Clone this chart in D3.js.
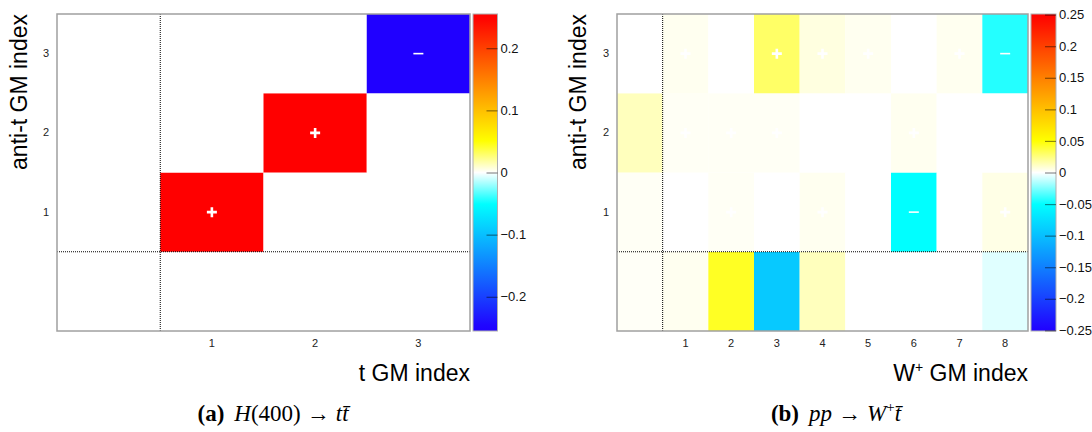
<!DOCTYPE html>
<html>
<head>
<meta charset="utf-8">
<script src="https://cdn.jsdelivr.net/npm/d3@7"></script>
<style>
  body { margin: 0; background: #fff; }
  svg { display: block; font-family: "Liberation Sans", Arial, sans-serif; }
</style>
</head>
<body>
<svg id="chart"></svg>
<script>
// panel (a): H(400) -> t tbar, rows = anti-t GM index (bottom to top), cols = t GM index
const aCols = [0, 1, 2, 3];
const aRows = [0, 1, 2, 3];
const aValues = [
  [0, 0, 0, 0],
  [0, 0.25, 0, 0],
  [0, 0, 0.25, 0],
  [0, 0, 0, -0.25]
];
const aTickLabels = [1, 2, 3];
const aBarTicks = [-0.2, -0.1, 0, 0.1, 0.2];
const aBarLimit = 0.255;

// panel (b): pp -> W+ tbar, cols = W+ GM index
const bCols = [0, 1, 2, 3, 4, 5, 6, 7, 8];
const bRows = [0, 1, 2, 3];
const bValues = [
  [0.0015, 0.003, 0.043, -0.092, 0.013, 0, 0, 0, -0.006],
  [0.002, 0, 0.002, 0, 0.003, 0, -0.05, 0, 0.005],
  [0.013, 0.002, 0.002, 0.002, 0, 0, 0.003, 0, 0],
  [0, 0.003, 0, 0.03, 0.006, 0.003, 0, 0.003, -0.043]
];
const bXTickLabels = [1, 2, 3, 4, 5, 6, 7, 8];
const bYTickLabels = [1, 2, 3];
const bBarTicks = [-0.25, -0.2, -0.15, -0.1, -0.05, 0, 0.05, 0.1, 0.15, 0.2, 0.25];
const bBarLimit = 0.251;

// palette
const colorStops = [-0.25, -0.05, 0, 0.05, 0.25];
const colorRange = ["#2000ff", "#00ffff", "#ffffff", "#ffff00", "#ff0000"];
const color = d3.scaleLinear().domain(colorStops).range(colorRange).clamp(true);

const width = 1092, height = 432;
const svg = d3.select("#chart").attr("width", width).attr("height", height);

function drawPanel(p) {
  const g = svg.append("g");

  const x = d3.scaleBand().domain(p.cols).range([p.x0, p.x1]);
  const y = d3.scaleBand().domain(p.rows).range([p.y1, p.y0]);

  // cells
  const cells = [];
  p.values.forEach((row, r) => row.forEach((v, c) => cells.push({ r: p.rows[r], c: p.cols[c], v: v })));

  g.selectAll(".cell")
    .data(cells)
    .enter()
    .append("rect")
      .attr("x", d => x(d.c))
      .attr("y", d => y(d.r))
      .attr("width", x.bandwidth())
      .attr("height", y.bandwidth())
      .attr("fill", d => color(d.v));

  // sign markers (skip index 0 row / column)
  const marked = cells.filter(d => d.v !== 0 && d.r > 0 && d.c > 0);
  g.selectAll(".mark")
    .data(marked)
    .enter()
    .append("path")
      .attr("d", d => {
        const cx = x(d.c) + x.bandwidth() / 2, cy = y(d.r) + y.bandwidth() / 2;
        return d.v > 0
          ? `M${cx - 5},${cy}H${cx + 5}M${cx},${cy - 5}V${cy + 5}`
          : `M${cx - 5},${cy}H${cx + 5}`;
      })
      .attr("stroke", "#fff")
      .attr("stroke-width", d => d.v > 0 ? 2.6 : 1.6)
      .attr("fill", "none");

  // dotted separators after index 0
  g.append("line")
    .attr("x1", x(1)).attr("x2", x(1))
    .attr("y1", p.y0).attr("y2", p.y1)
    .attr("stroke", "#000").attr("stroke-width", 1).attr("stroke-dasharray", "1,1");
  g.append("line")
    .attr("x1", p.x0).attr("x2", p.x1)
    .attr("y1", y(1) + y.bandwidth()).attr("y2", y(1) + y.bandwidth())
    .attr("stroke", "#000").attr("stroke-width", 1).attr("stroke-dasharray", "1,1");

  // frame
  g.append("rect")
    .attr("x", p.x0).attr("y", p.y0)
    .attr("width", p.x1 - p.x0).attr("height", p.y1 - p.y0)
    .attr("fill", "none").attr("stroke", "#a0a0a0").attr("stroke-width", 1.5);

  // axes
  g.append("g")
      .attr("transform", `translate(0,${p.y1})`)
      .call(d3.axisBottom(x).tickValues(p.xTicks).tickSize(0).tickPadding(8))
      .call(a => a.select(".domain").remove())
      .selectAll("text").attr("font-size", 11).attr("font-family", "Liberation Sans").attr("fill", "#222");

  g.append("g")
      .attr("transform", `translate(${p.x0},0)`)
      .call(d3.axisLeft(y).tickValues(p.yTicks).tickSize(0).tickPadding(8))
      .call(a => a.select(".domain").remove())
      .selectAll("text").attr("font-size", 11).attr("font-family", "Liberation Sans").attr("fill", "#222");

  // axis titles
  const xt = g.append("text")
    .attr("x", p.x1).attr("y", 381)
    .attr("text-anchor", "end")
    .attr("font-size", 23)
    .attr("fill", "#000");
  p.xTitle(xt);

  g.append("text")
    .attr("transform", `translate(${p.yTitleX},${p.y0}) rotate(-90)`)
    .attr("text-anchor", "end")
    .attr("font-size", 23)
    .attr("fill", "#000")
    .text("anti-t GM index");

  // colour bar
  const cb = d3.scaleLinear().domain([-p.barLimit, p.barLimit]).range([p.y1, p.y0]);
  const gradId = "grad" + p.id;
  const grad = svg.append("defs").append("linearGradient")
    .attr("id", gradId).attr("x1", 0).attr("x2", 0).attr("y1", 1).attr("y2", 0);
  d3.range(0, 1.0001, 0.02).forEach(t => {
    const v = -p.barLimit + t * 2 * p.barLimit;
    grad.append("stop").attr("offset", t).attr("stop-color", color(v));
  });
  g.append("rect")
    .attr("x", p.bx0).attr("y", p.y0)
    .attr("width", p.bx1 - p.bx0).attr("height", p.y1 - p.y0)
    .attr("fill", `url(#${gradId})`)
    .attr("stroke", "#b0b0b0").attr("stroke-width", 1);

  g.append("g")
      .attr("transform", `translate(${p.bx1},0)`)
      .call(d3.axisRight(cb).tickValues(p.barTicks).tickSize(-11).tickPadding(3).tickFormat(d3.format("~g")))
      .call(a => a.select(".domain").remove())
      .call(a => a.selectAll("line").attr("stroke", "#000").attr("stroke-opacity", 0.45).attr("stroke-width", 1.2))
      .selectAll("text").attr("font-size", 13).attr("font-family", "Liberation Sans").attr("fill", "#111");

  // caption
  const cap = g.append("text")
    .attr("x", p.capX).attr("y", 421)
    .attr("text-anchor", "middle")
    .attr("font-family", "Liberation Serif, DejaVu Serif, serif")
    .attr("font-size", 23)
    .attr("fill", "#000");
  p.caption(cap);
}

drawPanel({
  id: "a",
  cols: aCols, rows: aRows, values: aValues,
  xTicks: aTickLabels, yTicks: aTickLabels,
  x0: 57, x1: 470, y0: 14, y1: 331,
  bx0: 473, bx1: 497.5,
  barLimit: aBarLimit, barTicks: aBarTicks,
  yTitleX: 27, capX: 273,
  xTitle: t => t.text("t GM index"),
  caption: t => {
    t.append("tspan").attr("font-weight", "bold").text("(a)");
    t.append("tspan").attr("dx", 10).attr("font-style", "italic").text("H");
    t.append("tspan").text("(400)");
    t.append("tspan").attr("dx", 6).text("→");
    t.append("tspan").attr("dx", 6).attr("font-style", "italic").text("tt\u0304");
  }
});

drawPanel({
  id: "b",
  cols: bCols, rows: bRows, values: bValues,
  xTicks: bXTickLabels, yTicks: bYTickLabels,
  x0: 617, x1: 1028, y0: 14, y1: 331,
  bx0: 1031, bx1: 1056,
  barLimit: bBarLimit, barTicks: bBarTicks,
  yTitleX: 586, capX: 836,
  xTitle: t => {
    t.append("tspan").text("W");
    t.append("tspan").attr("font-size", 14).attr("dy", -9).text("+");
    t.append("tspan").attr("dy", 9).text(" GM index");
  },
  caption: t => {
    t.append("tspan").attr("font-weight", "bold").text("(b)");
    t.append("tspan").attr("dx", 10).attr("font-style", "italic").text("pp");
    t.append("tspan").attr("dx", 6).text("→");
    t.append("tspan").attr("dx", 6).attr("font-style", "italic").text("W");
    t.append("tspan").attr("font-size", 15).attr("dy", -9).text("+");
    t.append("tspan").attr("dy", 9).attr("font-style", "italic").text("t\u0304");
  }
});
</script>
</body>
</html>
